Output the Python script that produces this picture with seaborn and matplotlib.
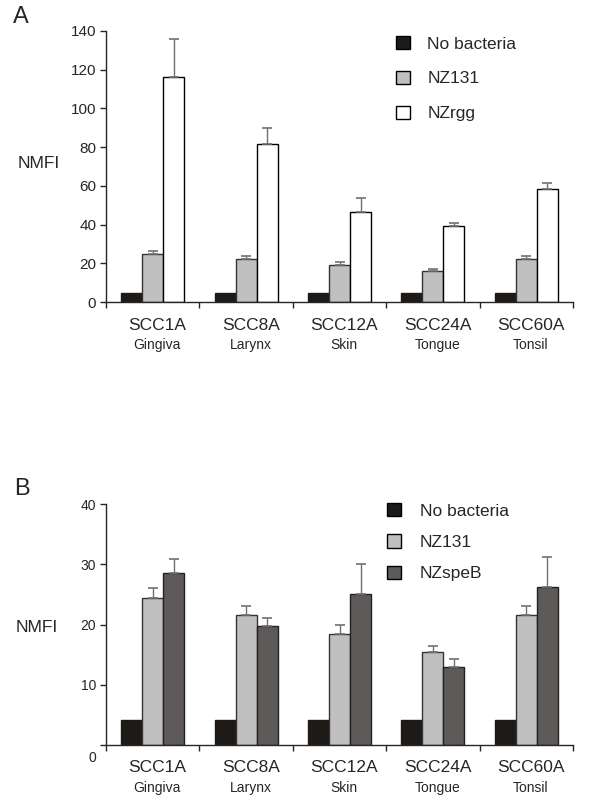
import numpy as np
import pandas as pd
import matplotlib
matplotlib.use("Agg")
import matplotlib.pyplot as plt
import matplotlib.transforms as mtransforms
import seaborn as sns

# Data
cells = ["SCC1A", "SCC8A", "SCC12A", "SCC24A", "SCC60A"]
sites = ["Gingiva", "Larynx", "Skin", "Tongue", "Tonsil"]

a_groups = ["No bacteria", "NZ131", "NZrgg"]
a_none = [4.5, 4.5, 4.5, 4.5, 4.5]
a_nz131 = [24.9, 22.0, 19.1, 16.0, 22.0]
a_nz131_err = [1.6, 1.6, 1.4, 1.2, 1.8]
a_nzrgg = [116.0, 81.6, 46.6, 39.4, 58.4]
a_nzrgg_err = [20.0, 8.3, 7.3, 1.6, 2.9]

b_groups = ["No bacteria", "NZ131", "NZspeB"]
b_none = [4.2, 4.2, 4.2, 4.2, 4.2]
b_nz131 = [24.4, 21.5, 18.4, 15.5, 21.5]
b_nz131_err = [1.7, 1.5, 1.6, 1.0, 1.6]
b_nzspeb = [28.6, 19.7, 25.1, 13.0, 26.3]
b_nzspeb_err = [2.3, 1.3, 4.9, 1.3, 4.9]

sns.set_style("ticks")
plt.rcParams["font.family"] = ["Liberation Sans", "DejaVu Sans"]


def long_table(groups, values):
    rows = []
    for g, vals in zip(groups, values):
        for c, v in zip(cells, vals):
            rows.append({"cell": c, "group": g, "value": v})
    return pd.DataFrame(rows)


def draw_panel(ax, df, groups, colors, edges, errs, yticks, tick_size):
    sns.barplot(data=df, x="cell", y="value", hue="group", hue_order=groups,
                palette=colors, width=0.675, errorbar=None, ax=ax,
                linewidth=1, edgecolor="black", saturation=1)
    for cont, ec in zip(ax.containers, edges):
        for p in cont:
            p.set_edgecolor(ec)
    # upper error bars only
    for cont, err in zip(ax.containers, errs):
        if err is None:
            continue
        xs = [p.get_x() + p.get_width() / 2 for p in cont]
        ys = [p.get_height() for p in cont]
        eb = ax.errorbar(xs, ys, yerr=[np.zeros(len(err)), err], fmt="none",
                         ecolor="#707070", elinewidth=1, capsize=3.5, capthick=1.2)
        for cl in eb[1]:
            cl.set_color("black")
    ax.set_xlim(-0.5, 4.5)
    ax.set_ylim(yticks[0], yticks[-1])
    ax.set_yticks(yticks)
    ax.tick_params(axis="y", labelsize=tick_size, length=4, width=1, pad=3)
    ax.set_xticks(np.arange(-0.5, 5, 1.0))
    ax.set_xticklabels([])
    ax.tick_params(axis="x", length=4, width=1)
    ax.set_xlabel("")
    ax.set_ylabel("")
    sns.despine(ax=ax)
    for s in ["left", "bottom"]:
        ax.spines[s].set_linewidth(1)
    trans = mtransforms.blended_transform_factory(ax.transData, ax.transAxes)
    for i, (c, s) in enumerate(zip(cells, sites)):
        ax.text(i + 0.05, 0, c, transform=trans + mtransforms.ScaledTranslation(0, -23 / 100, fig.dpi_scale_trans),
                ha="center", va="center", fontsize=12.5)
        ax.text(i + 0.05, 0, s, transform=trans + mtransforms.ScaledTranslation(0, -43 / 100, fig.dpi_scale_trans),
                ha="center", va="center", fontsize=10)


fig = plt.figure(figsize=(6, 8.02), dpi=100)
ax_a = fig.add_axes([106 / 600, 1 - 302 / 802, 467 / 600, 271 / 802])
ax_b = fig.add_axes([106 / 600, 1 - 745 / 802, 467 / 600, 241 / 802])

df_a = long_table(a_groups, [a_none, a_nz131, a_nzrgg])
draw_panel(ax_a, df_a, a_groups, ["#1e1a18", "#c0c0c0", "#ffffff"],
           ["#1e1a18", "#333333", "black"], [None, a_nz131_err, a_nzrgg_err],
           [0, 20, 40, 60, 80, 100, 120, 140], 11)

df_b = long_table(b_groups, [b_none, b_nz131, b_nzspeb])
draw_panel(ax_b, df_b, b_groups, ["#1e1a18", "#c0c0c0", "#5f5a5a"],
           ["#1e1a18", "#333333", "#222222"], [None, b_nz131_err, b_nzspeb_err],
           [0, 10, 20, 30, 40], 10)
# the zero label sits below the axis in panel B
lbl0 = ax_b.get_yticklabels()[0]
lbl0.set_transform(lbl0.get_transform() + mtransforms.ScaledTranslation(0, -11 / 100, fig.dpi_scale_trans))

sns.move_legend(ax_a, "upper left", bbox_to_anchor=(396 / 600, 1 - 36 / 802),
                bbox_transform=fig.transFigure, frameon=False, title=None,
                fontsize=12.5, handlelength=0.8, handleheight=0.8,
                handletextpad=1.0, labelspacing=1.1, borderpad=0, borderaxespad=0)
sns.move_legend(ax_b, "upper left", bbox_to_anchor=(387 / 600, 1 - 503 / 802),
                bbox_transform=fig.transFigure, frameon=False, title=None,
                fontsize=12.5, handlelength=0.8, handleheight=0.8,
                handletextpad=1.1, labelspacing=0.9, borderpad=0, borderaxespad=0)

fig.text(39 / 600, 1 - 163 / 802, "NMFI", ha="center", va="center", fontsize=12.5)
fig.text(37 / 600, 1 - 628 / 802, "NMFI", ha="center", va="center", fontsize=12.5)
fig.text(13 / 600, 1 - 17 / 802, "A", ha="left", va="center", fontsize=17)
fig.text(14 / 600, 1 - 489 / 802, "B", ha="left", va="center", fontsize=17)

fig.savefig("out.png", dpi=100)
